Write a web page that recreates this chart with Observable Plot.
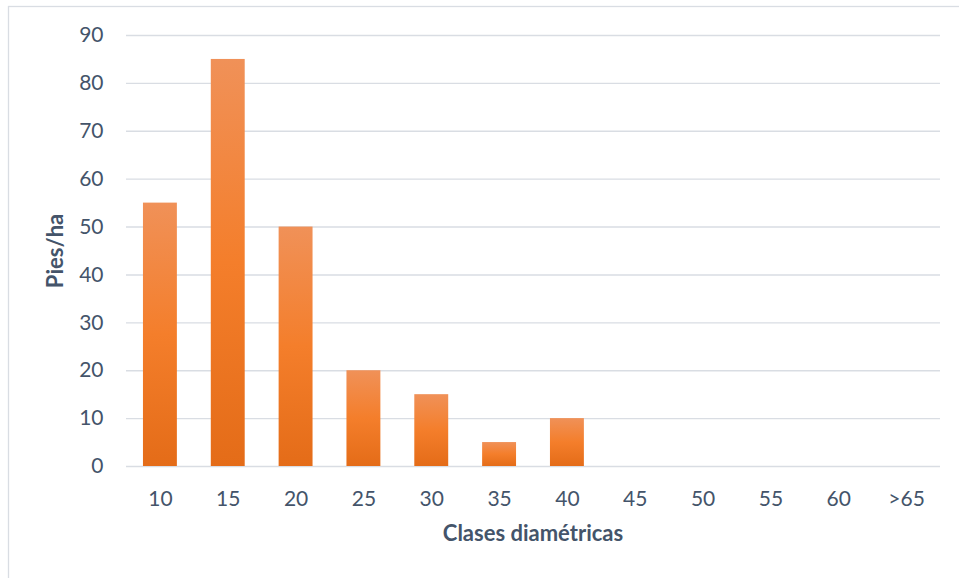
<!DOCTYPE html>
<html>
<head>
<meta charset="utf-8">
<script src="https://cdn.jsdelivr.net/npm/d3@7"></script>
<script src="https://cdn.jsdelivr.net/npm/@observablehq/plot@0.6"></script>
<style>
  html, body { margin: 0; padding: 0; background: #fff; }
  #chart { position: relative; width: 959px; height: 578px; overflow: hidden; }
</style>
</head>
<body>
<div id="chart"></div>
<script>
// Diameter classes (cm) and stems per hectare
const clases = ["10", "15", "20", "25", "30", "35", "40", "45", "50", "55", "60", ">65"];
const piesHa = [55, 85, 50, 20, 15, 5, 10, 0, 0, 0, 0, 0];
const yTicks = [0, 10, 20, 30, 40, 50, 60, 70, 80, 90];

const data = clases.map((c, i) => ({clase: c, pies: piesHa[i]}));

const textColor = "#44546A";
const gridColor = "#D9DDE3";
const font = "Lato, 'Open Sans', sans-serif";

const plot = Plot.plot({
  width: 959,
  height: 578,
  marginLeft: 126,
  marginRight: 19,
  marginTop: 35,
  marginBottom: 112,
  style: {fontFamily: font, fontSize: "21px", color: textColor, background: "transparent"},
  x: {domain: clases, paddingInner: 0.5, paddingOuter: 0.25, round: false, label: null},
  y: {domain: [0, 90], label: null},
  marks: [
    Plot.gridY(yTicks, {stroke: gridColor, strokeOpacity: 1, strokeWidth: 1.4}),
    Plot.barY(data, {x: "clase", y: "pies", fill: "url(#barFade)"}),
    Plot.axisY(yTicks, {tickSize: 0, tickPadding: 23, fontSize: 21, fill: textColor, label: null}),
    Plot.axisX({tickSize: 0, tickPadding: 25, fontSize: 21, fill: textColor, label: null})
  ]
});

const svg = d3.select(plot);

// Vertical fade used by every bar (bounding-box units, so each bar has its own)
const grad = svg.insert("defs", ":first-child")
  .append("linearGradient")
  .attr("id", "barFade")
  .attr("x1", 0).attr("y1", 0).attr("x2", 0).attr("y2", 1);
grad.append("stop").attr("offset", "0%").attr("stop-color", "#F09158");
grad.append("stop").attr("offset", "50%").attr("stop-color", "#F47E2B");
grad.append("stop").attr("offset", "100%").attr("stop-color", "#E46C18");

// Chart-area border
svg.insert("rect", "defs + *")
  .attr("x", 8.5).attr("y", 6.5)
  .attr("width", 1200).attr("height", 1200)
  .attr("fill", "none")
  .attr("stroke", gridColor)
  .attr("stroke-width", 1.3);

// Axis titles
svg.append("text")
  .attr("x", 533).attr("y", 535)
  .attr("text-anchor", "middle").attr("dominant-baseline", "middle")
  .attr("font-family", font).attr("font-size", 22).attr("font-weight", "bold")
  .attr("fill", textColor)
  .text("Clases diamétricas");

svg.append("text")
  .attr("transform", "translate(57,251) rotate(-90)")
  .attr("text-anchor", "middle").attr("dominant-baseline", "middle")
  .attr("font-family", font).attr("font-size", 22).attr("font-weight", "bold")
  .attr("fill", textColor)
  .text("Pies/ha");

document.getElementById("chart").appendChild(plot);
</script>
</body>
</html>
